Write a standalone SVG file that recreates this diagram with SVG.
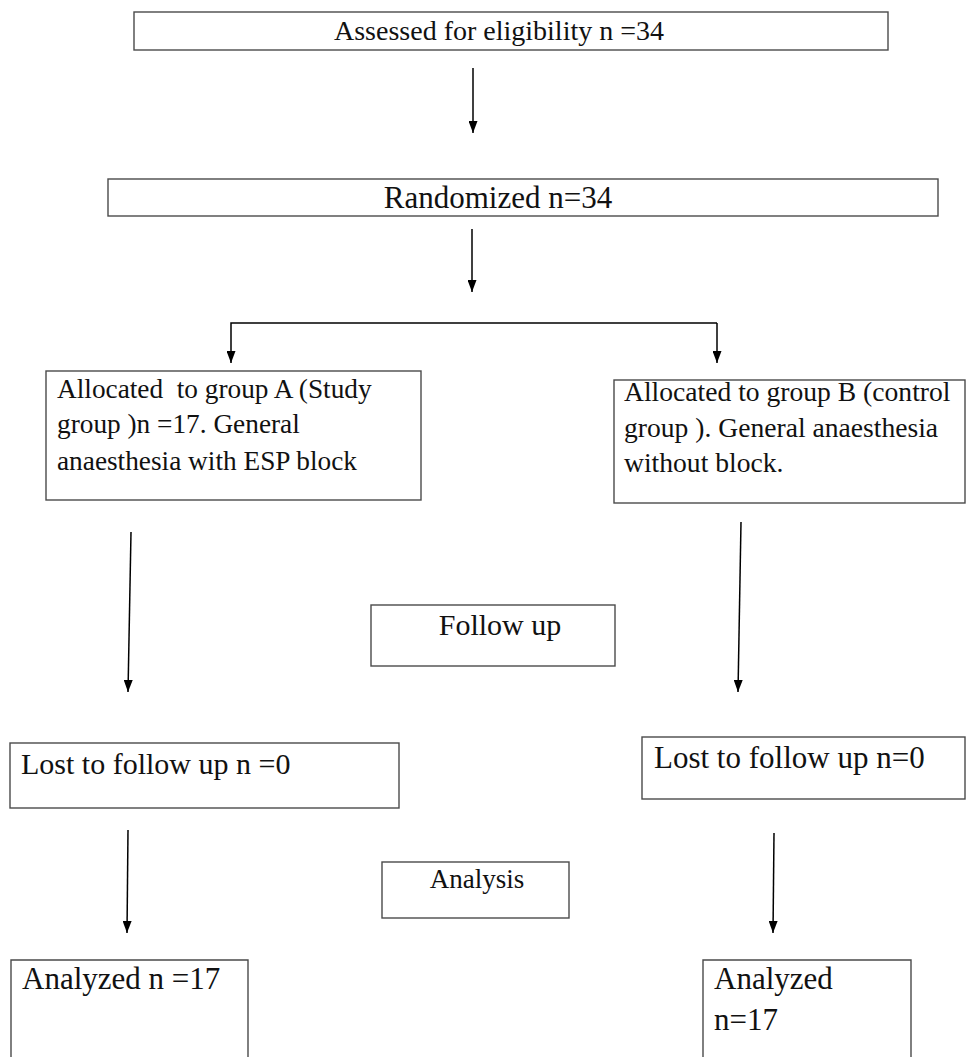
<svg xmlns="http://www.w3.org/2000/svg" width="967" height="1057" viewBox="0 0 967 1057">
<style>
.box{fill:#fff;stroke:#4a4a4a;stroke-width:1.4}
.t{font-family:"Liberation Serif","Times New Roman",serif;fill:#111}
.c{fill:none;stroke:#000;stroke-width:1.5}
</style>
<defs>
<marker id="ah" markerUnits="userSpaceOnUse" markerWidth="12" markerHeight="9" refX="12" refY="4.5" orient="auto">
<path d="M0,0 L12,4.5 L0,9 z" fill="#000"/>
</marker>
</defs>
<rect width="967" height="1057" fill="#fff"/>
<g id="connectors">
<path class="c" d="M473,68 L473,133" marker-end="url(#ah)"/>
<path class="c" d="M472,229 L472,292" marker-end="url(#ah)"/>
<path class="c" d="M717,323 L231,323 L231,363" marker-end="url(#ah)"/>
<path class="c" d="M717,323 L717,363" marker-end="url(#ah)"/>
<path class="c" d="M131,532 L128,692" marker-end="url(#ah)"/>
<path class="c" d="M741,522 L738,692" marker-end="url(#ah)"/>
<path class="c" d="M128,830 L127,933" marker-end="url(#ah)"/>
<path class="c" d="M774,833 L773,933" marker-end="url(#ah)"/>
</g>
<g id="assessed">
<rect class="box" x="134" y="12" width="754" height="38"/>
<text class="t" x="499" y="40" font-size="28" text-anchor="middle">Assessed for eligibility n =34</text>
</g>
<g id="randomized">
<rect class="box" x="108" y="179" width="830" height="37"/>
<text class="t" x="498" y="208" font-size="31" text-anchor="middle">Randomized n=34</text>
</g>
<g id="groupA">
<rect class="box" x="46" y="371" width="375" height="129"/>
<text class="t" x="57" y="398" font-size="27.3" xml:space="preserve">Allocated  to group A (Study</text>
<text class="t" x="57" y="433" font-size="27.3">group )n =17. General</text>
<text class="t" x="57" y="470" font-size="27.3">anaesthesia with ESP block</text>
</g>
<g id="groupB">
<rect class="box" x="614" y="380" width="351" height="123"/>
<text class="t" x="624" y="401" font-size="27.6">Allocated to group B (control</text>
<text class="t" x="624" y="437" font-size="27.6">group ). General anaesthesia</text>
<text class="t" x="624" y="472" font-size="27.6">without block.</text>
</g>
<g id="followup">
<rect class="box" x="371" y="605" width="244" height="61"/>
<text class="t" x="500" y="635" font-size="30" text-anchor="middle">Follow up</text>
</g>
<g id="lostA">
<rect class="box" x="10" y="743" width="389" height="65"/>
<text class="t" x="21" y="774" font-size="30">Lost to follow up n =0</text>
</g>
<g id="lostB">
<rect class="box" x="642" y="737" width="323" height="62"/>
<text class="t" x="654" y="768" font-size="31">Lost to follow up n=0</text>
</g>
<g id="analysis">
<rect class="box" x="382" y="862" width="187" height="56"/>
<text class="t" x="477" y="888" font-size="27" text-anchor="middle">Analysis</text>
</g>
<g id="analyzedA">
<path class="box" d="M11,1060 L11,960 L248,960 L248,1060"/>
<text class="t" x="22" y="989" font-size="31">Analyzed n =17</text>
</g>
<g id="analyzedB">
<path class="box" d="M703,1060 L703,960 L911,960 L911,1060"/>
<text class="t" x="714" y="989" font-size="31">Analyzed</text>
<text class="t" x="714" y="1030" font-size="31">n=17</text>
</g>
</svg>
